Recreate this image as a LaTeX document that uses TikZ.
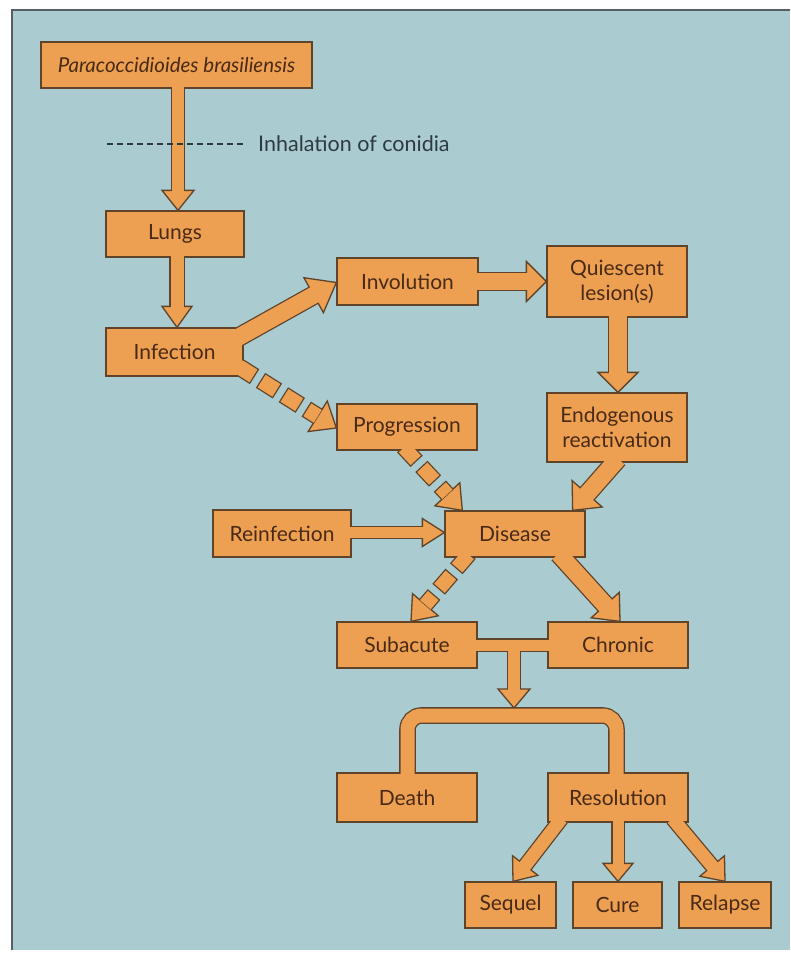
\documentclass[tikz,border=0pt]{standalone}
\usepackage{fontspec}
\setmainfont{Lato}
\usetikzlibrary{calc}
\pgfdeclarelayer{ground}
\pgfdeclarelayer{bg}
\pgfdeclarelayer{fg}
\pgfsetlayers{ground,bg,main,fg}

\definecolor{panel}{RGB}{170,203,208}
\definecolor{boxfill}{RGB}{238,160,82}
\definecolor{edge}{RGB}{95,68,42}
\definecolor{ink}{RGB}{72,42,22}
\definecolor{slate}{RGB}{45,58,66}
\definecolor{frameline}{RGB}{85,95,100}

\tikzset{
  box/.style={draw=edge, fill=boxfill, line width=1.3pt, text=ink,
    font=\fontsize{21}{25}\selectfont, align=center, inner sep=0pt,
    minimum height=46pt},
}

% Fat block arrow: #1 start, #2 tip, #3 shaft width, #4 half head width, #5 head length
\newcommand{\solidarrow}[5]{%
  \path #1 coordinate (fas) #2 coordinate (fae);
  \path ($(fae)!#5!(fas)$) coordinate (fah);
  \begin{pgfonlayer}{bg}
    \draw[edge, line width=#3+2.6pt] (fas) -- (fah);
    \filldraw[fill=boxfill, draw=edge, line width=1.3pt, line join=miter]
      ($(fah)!#4!90:(fae)$) -- (fae) -- ($(fah)!#4!-90:(fae)$) -- cycle;
  \end{pgfonlayer}
  \begin{pgfonlayer}{fg}
    \draw[boxfill, line width=#3] (fas) -- ($(fah)!2pt!(fae)$);
  \end{pgfonlayer}
}
% Same block arrow with a broken shaft
\newcommand{\brokenarrow}[5]{%
  \path #1 coordinate (fas) #2 coordinate (fae);
  \path ($(fae)!#5!(fas)$) coordinate (fah);
  \begin{pgfonlayer}{bg}
    \draw[edge, line width=#3+2.6pt, dash pattern=on 20pt off 7pt] (fas) -- (fah);
    \filldraw[fill=boxfill, draw=edge, line width=1.3pt, line join=miter]
      ($(fah)!#4!90:(fae)$) -- (fae) -- ($(fah)!#4!-90:(fae)$) -- cycle;
  \end{pgfonlayer}
  \begin{pgfonlayer}{fg}
    \draw[boxfill, line width=#3, dash pattern=on 17.4pt off 9.6pt, dash phase=25.7pt] (fas) -- (fah);
  \end{pgfonlayer}
}

\begin{document}
\begin{tikzpicture}[x=1pt, y=-1pt]
\useasboundingbox (0,0) rectangle (790,955);
\begin{pgfonlayer}{ground}
  \fill[white] (0,0) rectangle (790,955);
  \fill[panel] (12,10) rectangle (790,950);
  \draw[frameline, line width=1.2pt] (12,950) -- (12,10) -- (790,10);
\end{pgfonlayer}

% boxes
\node[box, minimum width=271pt, font=\fontsize{20.5}{24}\selectfont\itshape] (para) at (176.5,65) {Paracoccidioides brasiliensis};
\node[box, minimum width=138pt] (lungs) at (175,234) {Lungs};
\node[box, minimum width=137pt, minimum height=48pt] (infection) at (174.5,352) {Infection};
\node[box, minimum width=141pt, minimum height=47pt] (involution) at (407.5,281.5) {Involution};
\node[box, minimum width=140pt] (progression) at (407,427) {Progression};
\node[box, minimum width=140pt, minimum height=71pt] (quiescent) at (617,281.5) {Quiescent\\lesion(s)};
\node[box, minimum width=140pt, minimum height=69pt] (endogenous) at (617,427.5) {Endogenous\\reactivation};
\node[box, minimum width=138pt, minimum height=47pt] (reinfection) at (282,533.5) {Reinfection};
\node[box, minimum width=140pt] (disease) at (515,534) {Disease};
\node[box, minimum width=140pt] (subacute) at (407,645) {Subacute};
\node[box, minimum width=140pt] (chronic) at (618,645) {Chronic};
\node[box, minimum width=140pt, minimum height=49pt] (death) at (407,797.5) {Death};
\node[box, minimum width=140pt, minimum height=49pt] (resolution) at (618,797.5) {Resolution};
\node[box, minimum width=91pt] (sequel) at (510.5,905) {Sequel};
\node[box, minimum width=89pt] (cure) at (617.5,905) {Cure};
\node[box, minimum width=92pt] (relapse) at (725,905) {Relapse};

% inhalation label
\node[font=\fontsize{21.5}{24}\selectfont, text=slate, anchor=west, inner sep=0pt] (inhal) at (258,144) {Inhalation of conidia};
\coordinate (dashstart) at (107,144);

% arrows
\solidarrow{($(para.south)+(1.5,-4)$)}{($(lungs.north)+(3,0)$)}{12pt}{16pt}{20pt}
\solidarrow{($(lungs.south)+(2,-4)$)}{($(infection.north)+(2.5,0)$)}{13pt}{15pt}{21pt}
\solidarrow{($(infection.north east)+(-9,12)$)}{($(involution.west)+(0,1)$)}{17pt}{20pt}{26pt}
\solidarrow{($(involution.east)+(-4,0)$)}{(quiescent.west)}{17pt}{20pt}{20pt}
\solidarrow{($(quiescent.south)+(1,-4)$)}{($(endogenous.north)+(1,0)$)}{18pt}{20pt}{20pt}
\brokenarrow{($(infection.east)+(-6,14)$)}{($(progression.west)+(0,1)$)}{15pt}{18pt}{22pt}
\brokenarrow{($(progression.south)+(-4,-4)$)}{($(disease.north west)+(18,0)$)}{14pt}{17pt}{22pt}
\solidarrow{($(endogenous.south)+(1,-4)$)}{($(disease.north east)+(-13,0)$)}{17pt}{20pt}{22pt}
\solidarrow{($(reinfection.east)+(-4,-1)$)}{($(disease.west)+(0,-1.5)$)}{11pt}{14pt}{22pt}
\brokenarrow{($(disease.south west)+(25,-4)$)}{($(subacute.north)+(4,0)$)}{14pt}{17pt}{22pt}
\solidarrow{($(disease.south east)+(-27,-4)$)}{($(chronic.north)+(2,0)$)}{17pt}{19pt}{22pt}

% bar joining the two forms
\begin{pgfonlayer}{bg}
  \draw[edge, line width=13.6pt] ($(subacute.east)+(-4,0)$) -- ($(chronic.west)+(4,0)$);
\end{pgfonlayer}
\begin{pgfonlayer}{fg}
  \draw[boxfill, line width=11pt] ($(subacute.east)+(-4,0)$) -- ($(chronic.west)+(4,0)$);
\end{pgfonlayer}
\coordinate (barmid) at ($(subacute.east)!0.5!(chronic.west)$);
\coordinate (split) at ($(barmid)+(1.5,70.5)$);
\solidarrow{($(barmid)+(1.5,0)$)}{($(split)+(0,-7.5)$)}{12pt}{16pt}{19pt}

% branching tube to the outcomes
\begin{pgfonlayer}{bg}
  \draw[edge, line width=16.6pt, rounded corners=14pt]
    ($(death.north)+(0.5,4)$) |- (split) -| ($(resolution.north)+(-1.5,4)$);
\end{pgfonlayer}
\begin{pgfonlayer}{fg}
  \draw[boxfill, line width=14pt, rounded corners=14pt]
    ($(death.north)+(0.5,4)$) |- (split) -| ($(resolution.north)+(-1.5,4)$);
\end{pgfonlayer}

\solidarrow{($(resolution.south west)+(14,-4)$)}{($(sequel.north)+(2.5,0)$)}{13pt}{16pt}{20pt}
\solidarrow{($(resolution.south)+(0,-4)$)}{($(cure.north)+(0.5,0)$)}{11pt}{15pt}{18pt}
\solidarrow{($(resolution.south east)+(-16,-4)$)}{(relapse.north)}{13pt}{16pt}{20pt}

% dashed inhalation line drawn across the first arrow
\begin{pgfonlayer}{fg}
  \draw[slate, line width=1.1pt, dash pattern=on 6pt off 4pt, shorten >=13pt] (dashstart) -- (inhal.west);
\end{pgfonlayer}
\end{tikzpicture}
\end{document}
